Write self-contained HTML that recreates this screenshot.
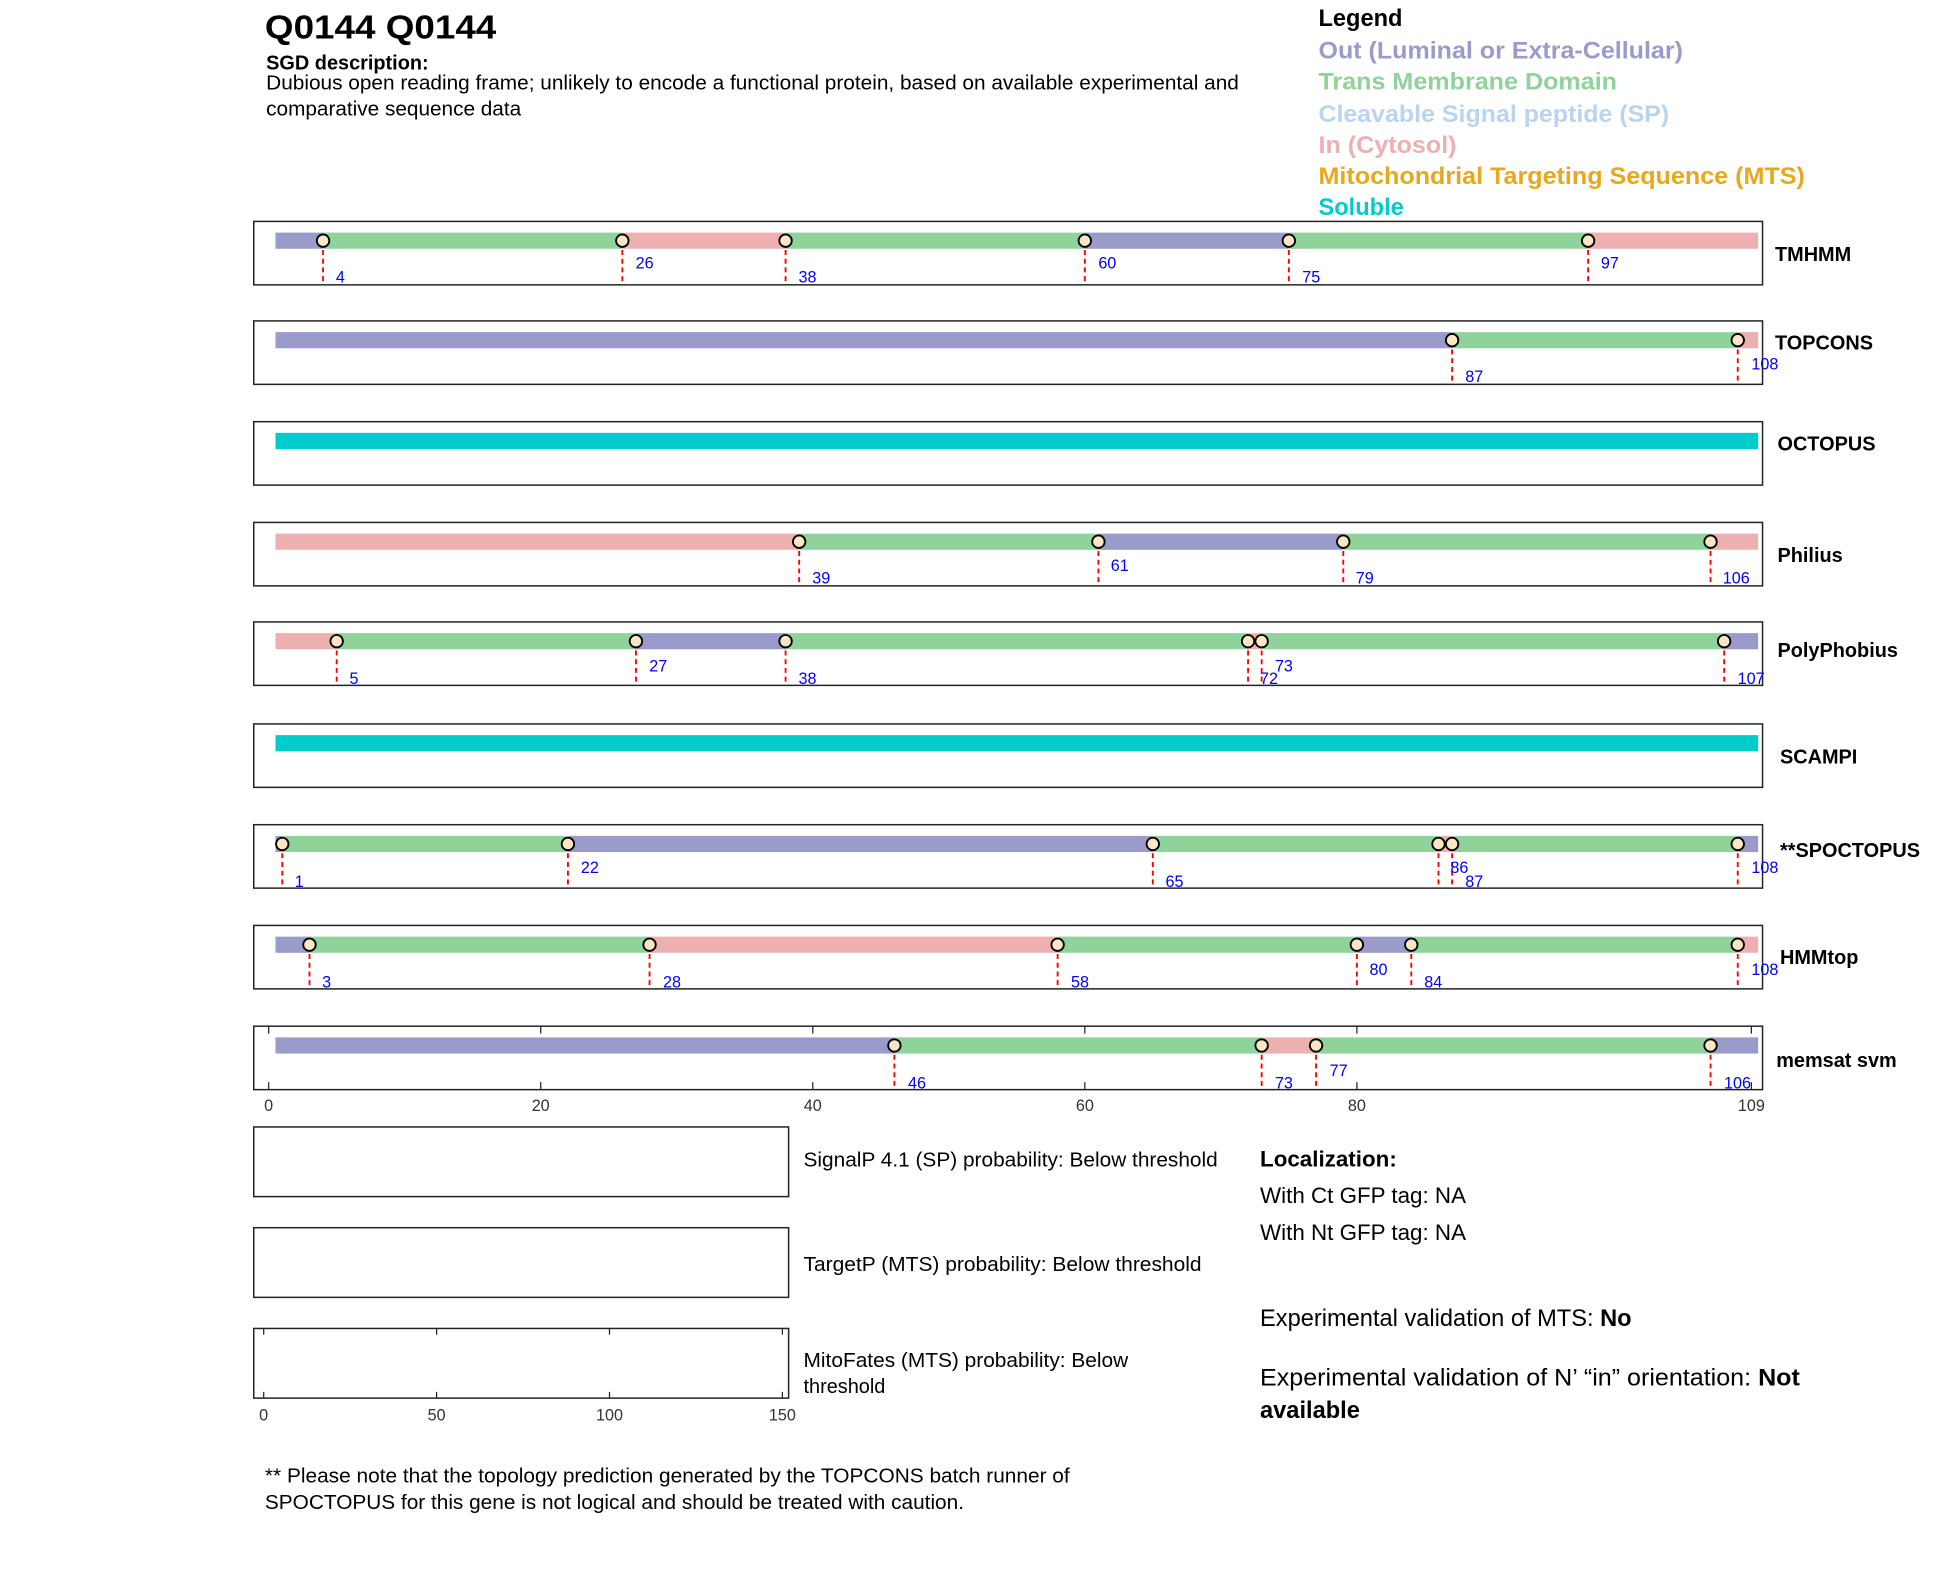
<!DOCTYPE html>
<html><head><meta charset="utf-8"><style>
html,body{margin:0;padding:0;background:#fff;width:1950px;height:1573px;overflow:hidden}
svg{display:block}
text{font-family:"Liberation Sans",Arial,sans-serif}
.n{fill:#0000ff;font-size:13px}
.tl{font-size:16px;font-weight:bold}
.ax{font-size:13px;fill:#333}
.lg{font-size:19px;font-weight:bold}
</style></head><body>
<svg id="s" width="1950" height="1573" viewBox="0 0 1567.7 1264.6" preserveAspectRatio="none" xmlns="http://www.w3.org/2000/svg">
<g id="shapes"></g>
<text x="213" y="31" font-size="27" font-weight="bold" textLength="186" lengthAdjust="spacingAndGlyphs">Q0144  Q0144</text>
<text x="214" y="56" font-size="16" font-weight="bold">SGD description:</text>
<text x="214" y="72" font-size="16" textLength="782" lengthAdjust="spacingAndGlyphs">Dubious open reading frame; unlikely to encode a functional protein, based on available experimental and</text>
<text x="214" y="93" font-size="16" textLength="205" lengthAdjust="spacingAndGlyphs">comparative sequence data</text>
<text x="1060" y="21" class="lg">Legend</text>
<text x="1060" y="47" class="lg" fill="#9a9bca" textLength="293" lengthAdjust="spacingAndGlyphs">Out (Luminal or Extra-Cellular)</text>
<text x="1060" y="72" class="lg" fill="#8fd29a" textLength="240" lengthAdjust="spacingAndGlyphs">Trans Membrane Domain</text>
<text x="1060" y="98" class="lg" fill="#b8d4f0" textLength="282" lengthAdjust="spacingAndGlyphs">Cleavable Signal peptide (SP)</text>
<text x="1060" y="123" class="lg" fill="#ecb0b0" textLength="111" lengthAdjust="spacingAndGlyphs">In (Cytosol)</text>
<text x="1060" y="148" class="lg" fill="#e8a81c" textLength="391" lengthAdjust="spacingAndGlyphs">Mitochondrial Targeting Sequence (MTS)</text>
<text x="1060" y="173" class="lg" fill="#00cccc">Soluble</text>

<text x="1427" y="210" class="tl">TMHMM</text>
<text x="1427" y="281" class="tl">TOPCONS</text>
<text x="1429" y="362" class="tl">OCTOPUS</text>
<text x="1429" y="452" class="tl">Philius</text>
<text x="1429" y="528" class="tl">PolyPhobius</text>
<text x="1431" y="614" class="tl">SCAMPI</text>
<text x="1431" y="689" class="tl">**SPOCTOPUS</text>
<text x="1431" y="775" class="tl">HMMtop</text>
<text x="1428" y="858" class="tl">memsat svm</text>

<text x="270" y="227" class="n">4</text><text x="511" y="216" class="n">26</text><text x="642" y="227" class="n">38</text><text x="883" y="216" class="n">60</text><text x="1047" y="227" class="n">75</text><text x="1287" y="216" class="n">97</text>
<text x="1178" y="307" class="n">87</text><text x="1408" y="297" class="n">108</text>
<text x="653" y="469" class="n">39</text><text x="893" y="459" class="n">61</text><text x="1090" y="469" class="n">79</text><text x="1385" y="469" class="n">106</text>
<text x="281" y="550" class="n">5</text><text x="522" y="540" class="n">27</text><text x="642" y="550" class="n">38</text><text x="1013" y="550" class="n">72</text><text x="1025" y="540" class="n">73</text><text x="1397" y="550" class="n">107</text>
<text x="237" y="713" class="n">1</text><text x="467" y="702" class="n">22</text><text x="937" y="713" class="n">65</text><text x="1166" y="702" class="n">86</text><text x="1178" y="713" class="n">87</text><text x="1408" y="702" class="n">108</text>
<text x="259" y="794" class="n">3</text><text x="533" y="794" class="n">28</text><text x="861" y="794" class="n">58</text><text x="1101" y="784" class="n">80</text><text x="1145" y="794" class="n">84</text><text x="1408" y="784" class="n">108</text>
<text x="730" y="875" class="n">46</text><text x="1025" y="875" class="n">73</text><text x="1069" y="865" class="n">77</text><text x="1386" y="875" class="n">106</text>

<text x="216" y="893" class="ax" text-anchor="middle">0</text>
<text x="434.7" y="893" class="ax" text-anchor="middle">20</text>
<text x="653.4" y="893" class="ax" text-anchor="middle">40</text>
<text x="872.2" y="893" class="ax" text-anchor="middle">60</text>
<text x="1090.9" y="893" class="ax" text-anchor="middle">80</text>
<text x="1408" y="893" class="ax" text-anchor="middle">109</text>

<text x="646" y="938" font-size="16" textLength="333" lengthAdjust="spacingAndGlyphs">SignalP 4.1 (SP) probability: Below threshold</text>
<text x="646" y="1022" font-size="16" textLength="320" lengthAdjust="spacingAndGlyphs">TargetP (MTS) probability: Below threshold</text>
<text x="646" y="1099" font-size="16" textLength="261" lengthAdjust="spacingAndGlyphs">MitoFates (MTS) probability: Below</text>
<text x="646" y="1120" font-size="16">threshold</text>
<text x="212" y="1142" class="ax" text-anchor="middle">0</text>
<text x="351" y="1142" class="ax" text-anchor="middle">50</text>
<text x="490" y="1142" class="ax" text-anchor="middle">100</text>
<text x="629" y="1142" class="ax" text-anchor="middle">150</text>

<text x="1013" y="938" font-size="18" font-weight="bold">Localization:</text>
<text x="1013" y="967" font-size="18">With Ct GFP tag: NA</text>
<text x="1013" y="997" font-size="18">With Nt GFP tag: NA</text>
<text x="1013" y="1066" font-size="19">Experimental validation of MTS: <tspan font-weight="bold">No</tspan></text>
<text x="1013" y="1114" font-size="19" textLength="434" lengthAdjust="spacingAndGlyphs">Experimental validation of N’ “in” orientation: <tspan font-weight="bold">Not</tspan></text>
<text x="1013" y="1140" font-size="19" font-weight="bold">available</text>

<text x="213" y="1192" font-size="16" textLength="647" lengthAdjust="spacingAndGlyphs">** Please note that the topology prediction generated by the TOPCONS batch runner of</text>
<text x="213" y="1213" font-size="16" textLength="562" lengthAdjust="spacingAndGlyphs">SPOCTOPUS for this gene is not logical and should be treated with caution.</text>
</svg>
<script>
(function(){
var g=document.getElementById('shapes'),NS='http://www.w3.org/2000/svg';
function el(t,a){var e=document.createElementNS(NS,t);for(var k in a)e.setAttribute(k,a[k]);g.appendChild(e);return e;}
function X(v){return 216+v*1192/109;}
var P='#9a9bca',G='#8fd29a',K='#ecb0b0',C='#00cccc';
var tracks=[
[178,[[0.5,4,P],[4,26,G],[26,38,K],[38,60,G],[60,75,P],[75,97,G],[97,109.5,K]],[4,26,38,60,75,97]],
[258,[[0.5,87,P],[87,108,G],[108,109.5,K]],[87,108]],
[339,[[0.5,109.5,C]],[]],
[420,[[0.5,39,K],[39,61,G],[61,79,P],[79,106,G],[106,109.5,K]],[39,61,79,106]],
[500,[[0.5,5,K],[5,27,G],[27,38,P],[38,72,G],[72,73,K],[73,107,G],[107,109.5,P]],[5,27,38,72,73,107]],
[582,[[0.5,109.5,C]],[]],
[663,[[0.5,1,P],[1,22,G],[22,65,P],[65,86,G],[86,87,K],[87,108,G],[108,109.5,P]],[1,22,65,86,87,108]],
[744,[[0.5,3,P],[3,28,G],[28,58,K],[58,80,G],[80,84,P],[84,108,G],[108,109.5,K]],[3,28,58,80,84,108]],
[825,[[0.5,46,P],[46,73,G],[73,77,K],[77,106,G],[106,109.5,P]],[46,73,77,106]]
];
tracks.forEach(function(t,i){
 var T=t[0];
 el('rect',{x:204,y:T,width:1213,height:51,fill:'#fff',stroke:'#222','stroke-width':1.2});
 if(i==8){[0,20,40,60,80,109].forEach(function(v){el('line',{x1:X(v),x2:X(v),y1:T,y2:T+6,stroke:'#222'});el('line',{x1:X(v),x2:X(v),y1:T+51,y2:T+45,stroke:'#222'});});}
 t[1].forEach(function(s){el('rect',{x:X(s[0]),y:T+9,width:X(s[1])-X(s[0]),height:13,fill:s[2]});});
 t[2].forEach(function(v){var x=X(v);
  el('line',{x1:x,x2:x,y1:T+16,y2:T+51,stroke:'#f00','stroke-width':1.5,'stroke-dasharray':'4,3'});
  el('circle',{cx:x,cy:T+15.5,r:5,fill:'#fde6c4',stroke:'#000','stroke-width':1.5});});
});
[906,987,1068].forEach(function(y,i){
 el('rect',{x:204,y:y,width:430,height:56,fill:'#fff',stroke:'#222','stroke-width':1.2});
 if(i==2){[0,50,100,150].forEach(function(v){var x=212+v*417/150;el('line',{x1:x,x2:x,y1:y,y2:y+5,stroke:'#222'});el('line',{x1:x,x2:x,y1:y+56,y2:y+51,stroke:'#222'});});}
});
})();
</script>
</body></html>
